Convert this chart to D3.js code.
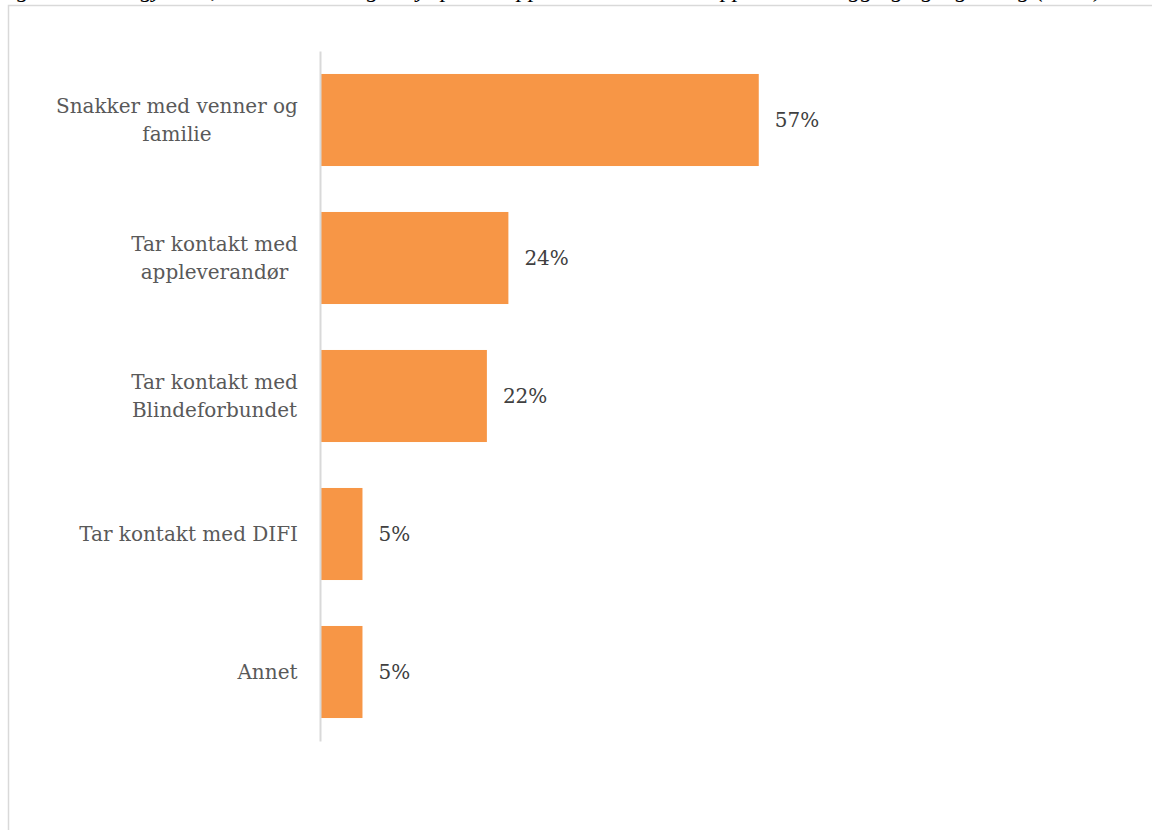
<!DOCTYPE html>
<html>
<head>
<meta charset="utf-8">
<script src="https://cdn.jsdelivr.net/npm/d3@7"></script>
<style>
  html, body { margin: 0; padding: 0; background: #ffffff; }
  svg { display: block; }
</style>
</head>
<body>
<svg id="chart" width="1152" height="830"></svg>
<script>
const titleText = "Figur 12: Hva gjør du, dersom du trenger hjelp med oppsett eller bruk av appen til innlogging og signering (N=...)";
const categories = [
  ["Snakker med venner og", "familie"],
  ["Tar kontakt med", "appleverandør"],
  ["Tar kontakt med", "Blindeforbundet"],
  ["Tar kontakt med DIFI"],
  ["Annet"]
];
const values = [57, 24.4, 21.6, 5.4, 5.4];
const valueLabels = ["57%", "24%", "22%", "5%", "5%"];

const svg = d3.select("#chart");
const labelFont = "'DejaVu Serif', serif";

// title, cut off at the top edge as in the reference
svg.append("text")
  .attr("x", -4).attr("y", -3)
  .attr("font-family", "'Liberation Serif', serif")
  .attr("font-style", "italic")
  .attr("font-size", 24)
  .attr("fill", "#000")
  .text(titleText);

// chart border
svg.append("rect")
  .attr("x", 8.5).attr("y", 5.5)
  .attr("width", 1160).attr("height", 840)
  .attr("fill", "none")
  .attr("stroke", "#d9d9d9")
  .attr("stroke-width", 1.5);

const idx = d3.range(categories.length);
const y = d3.scaleBand().domain(idx).range([51, 741]).paddingInner(0.333).paddingOuter(0.1665);
const x = d3.scaleLinear().domain([0, 100]).range([321, 321 + 768]);

// bars
svg.append("g").selectAll("rect").data(idx).join("rect")
  .attr("x", x(0))
  .attr("y", i => y(i))
  .attr("width", i => x(values[i]) - x(0))
  .attr("height", y.bandwidth())
  .attr("fill", "#f79646");

// axis line
const axis = d3.axisLeft(y).tickSize(0).tickFormat("");
const ag = svg.append("g").attr("transform", `translate(${x(0) - 1},0)`).call(axis);
ag.select(".domain").attr("stroke", "#d9d9d9").attr("stroke-width", 2);

// category labels
const lg = svg.append("g");
idx.forEach(i => {
  const lines = categories[i];
  const cy = y(i) + y.bandwidth() / 2;
  const lh = 28;
  const t = lg.append("text")
    .attr("font-family", labelFont)
    .attr("font-size", 20)
    .attr("fill", "#595959")
    .attr("text-anchor", "middle");
  lines.forEach((ln, k) => {
    t.append("tspan").attr("x", 0)
      .attr("y", cy + (k - (lines.length - 1) / 2) * lh)
      .attr("dy", "0.35em")
      .text(ln);
  });
  const bb = t.node().getBBox();
  t.attr("transform", `translate(${298 - bb.width / 2},0)`);
});

// value labels
svg.append("g").selectAll("text").data(idx).join("text")
  .attr("x", i => x(values[i]) + 16)
  .attr("y", i => y(i) + y.bandwidth() / 2)
  .attr("dy", "0.35em")
  .attr("font-family", labelFont)
  .attr("font-size", 20)
  .attr("fill", "#404040")
  .text(i => valueLabels[i]);
</script>
</body>
</html>
